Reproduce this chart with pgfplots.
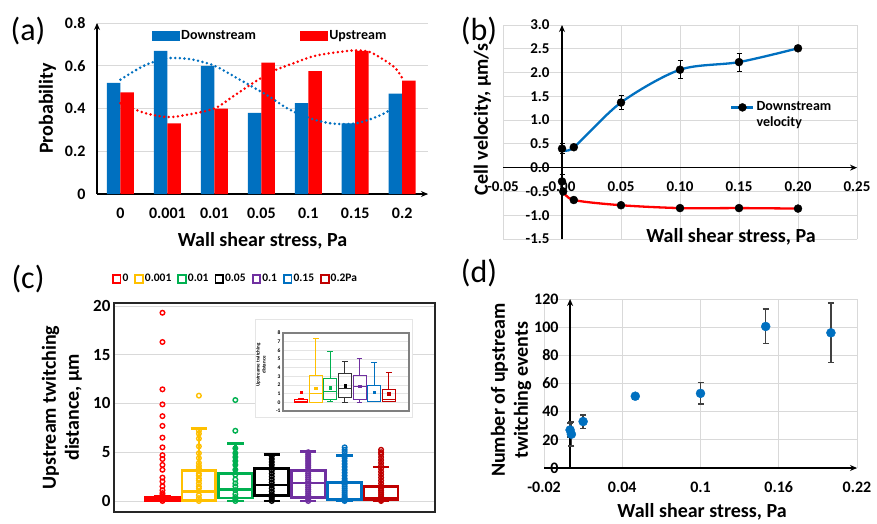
\documentclass[border=0pt]{standalone}
\usepackage{fontspec}
\setmainfont{Carlito}
\usepackage{pgfplots}
\pgfplotsset{compat=1.18}
\usepgfplotslibrary{statistics}
\usetikzlibrary{arrows.meta}
\definecolor{xblue}{RGB}{0,112,192}
\definecolor{xred}{RGB}{255,0,0}
\definecolor{xyellow}{RGB}{255,192,0}
\definecolor{xgreen}{RGB}{0,176,80}
\definecolor{xpurple}{RGB}{112,48,160}
\definecolor{xdred}{RGB}{192,0,0}
\definecolor{xgrid}{RGB}{217,217,217}
\definecolor{errgray}{RGB}{64,64,64}
\newcommand{\fs}[1]{\fontsize{#1}{#1}\selectfont}
\pgfplotsset{/pgf/number format/assume math mode=true}
\begin{document}
\begin{tikzpicture}[x=1pt,y=1pt]
\fill[white] (0,0) rectangle (877,523);
\path[use as bounding box] (0,0) rectangle (877,523);
% ---------------- (a)
\begin{axis}[
  at={(97pt,329pt)}, anchor=south west,
  scale only axis, width=331pt, height=171pt,
  xmin=-0.5, xmax=6.55, ymin=0, ymax=0.8,
  axis x line=bottom, axis y line=left,
  axis line style={line width=1.6pt, -{Stealth[length=7pt,width=6pt]}},
  ytick={0,0.2,0.4,0.6,0.8}, yticklabels={0,0.2,0.4,0.6,0.8},
  xtick={0,1,2,3,4,5,6}, xticklabels={0,0.001,0.01,0.05,0.1,0.15,0.2},
  major tick length=0pt,
  ymajorgrids, grid style={xgrid, line width=0.8pt},
  tick label style={font=\bfseries\fs{16}},
  xticklabel style={yshift=-10pt},
  yticklabel style={xshift=-8pt},
  xlabel={Wall shear stress, Pa},
  xlabel style={font=\bfseries\fs{20}, at={(axis description cs:0.5,-0.275)}, anchor=center},
  ylabel={Probability},
  ylabel style={font=\bfseries\fs{20}, at={(axis description cs:-0.15,0.5)}, anchor=center},
  legend columns=2,
  legend style={at={(0.523,0.924)}, anchor=center, draw=none, fill=none,
    font=\bfseries\fs{14}, /tikz/every even column/.append style={column sep=42pt}},
]
\addplot[ybar, bar width=13.5pt, bar shift=-6.75pt, fill=xblue, draw=none, forget plot]
  coordinates {(0,0.52) (1,0.67) (2,0.60) (3,0.38) (4,0.425) (5,0.33) (6,0.47)};
\addplot[ybar, bar width=13.5pt, bar shift=6.75pt, fill=xred, draw=none, forget plot]
  coordinates {(0,0.475) (1,0.33) (2,0.40) (3,0.615) (4,0.575) (5,0.67) (6,0.53)};
\addplot[xblue, line width=2.8pt, dash pattern=on 0pt off 4.6pt, line cap=round, smooth, forget plot]
  coordinates {(0,0.535) (0.5,0.60) (1,0.635) (1.5,0.63) (2,0.60) (2.5,0.54) (3.1,0.465) (3.6,0.395) (4.1,0.35) (4.5,0.33) (5,0.33) (5.5,0.365) (5.85,0.41) (6.02,0.46)};
\addplot[xred, line width=2.8pt, dash pattern=on 0pt off 4.6pt, line cap=round, smooth, forget plot]
  coordinates {(0,0.425) (0.5,0.38) (1,0.36) (1.4,0.37) (2,0.40) (2.4,0.457) (2.83,0.52) (3.25,0.575) (3.7,0.613) (4.1,0.644) (4.5,0.66) (5,0.672) (5.3,0.665) (5.55,0.636) (5.85,0.59) (6.02,0.535)};
\addlegendimage{legend image code/.code={\fill[xblue] (0pt,-4.5pt) rectangle (27pt,4.5pt);}}
\addlegendentry{Downstream}
\addlegendimage{legend image code/.code={\fill[xred] (0pt,-4.5pt) rectangle (27pt,4.5pt);}}
\addlegendentry{Upstream}
\end{axis}
% ---------------- (b)
\begin{axis}[
  at={(503pt,284pt)}, anchor=south west,
  scale only axis, width=354pt, height=214pt,
  xmin=-0.05, xmax=0.25, ymin=-1.5, ymax=3.0,
  axis lines=middle,
  axis line style={line width=1.6pt, -{Stealth[length=7pt,width=6pt]}},
  xtick={-0.05,0,0.05,0.1,0.15,0.2,0.25},
  xticklabels={-0.05,0.00,0.05,0.10,0.15,0.20,0.25},
  ytick={-1.5,-1,-0.5,0,0.5,1,1.5,2,2.5,3},
  yticklabels={-1.5,-1.0,-0.5,0.0,0.5,1.0,1.5,2.0,2.5,3.0},
  hide obscured x ticks=false, hide obscured y ticks=false,
  grid=major, grid style={xgrid, line width=0.8pt},
  major tick length=0pt,
  tick label style={font=\bfseries\fs{15}},
  xticklabel style={yshift=-10pt},
  yticklabel style={xshift=-9pt},
  xlabel={Wall shear stress, Pa},
  xlabel style={font=\bfseries\fs{20}, at={(axis description cs:0.644,0.008)}, anchor=center},
  ylabel={Cell velocity, µm/s},
  ylabel style={font=\bfseries\fs{20}, at={(axis description cs:-0.058,0.56)}, anchor=center, rotate=90},
  legend style={at={(0.633,0.664)}, anchor=north west, draw=none, fill=none,
    font=\bfseries\fontsize{14}{16}\selectfont, nodes={align=left}},
]
\addplot[xblue, line width=2.3pt, smooth, forget plot]
  coordinates {(0,0.38) (0.01,0.43) (0.05,1.37) (0.1,2.06) (0.15,2.22) (0.2,2.51)};
\addplot[xred, line width=2.3pt, smooth, forget plot]
  coordinates {(0.001,-0.5) (0.01,-0.68) (0.05,-0.79) (0.1,-0.85) (0.15,-0.85) (0.2,-0.86)};
\addplot[only marks, mark=*, mark size=4pt, black, forget plot,
  error bars/.cd, y dir=both, y explicit,
  error bar style={black, line width=0.8pt},
  error mark options={rotate=90, mark size=2.5pt, black, line width=0.8pt}]
  coordinates {(0,0.40) +- (0,0.10) (0.01,0.43) +- (0,0.04) (0.05,1.37) +- (0,0.14)
               (0.1,2.06) +- (0,0.19) (0.15,2.22) +- (0,0.19) (0.2,2.51) +- (0,0.03)};
\addplot[only marks, mark=*, mark size=4pt, black, forget plot,
  error bars/.cd, y dir=both, y explicit,
  error bar style={black, line width=0.8pt},
  error mark options={rotate=90, mark size=2.5pt, black, line width=0.8pt}]
  coordinates {(0,-0.29) +- (0,0.14) (0.001,-0.5) +- (0,0.05) (0.01,-0.68) +- (0,0.04)
               (0.05,-0.79) +- (0,0.03) (0.1,-0.85) +- (0,0.02) (0.15,-0.85) +- (0,0.02) (0.2,-0.86) +- (0,0.02)};
\addlegendimage{legend image code/.code={\draw[xblue, line width=2.3pt] (0pt,7pt) -- (22pt,7pt); \fill[black] (11pt,7pt) circle (4pt);}}
\addlegendentry{Downstream\\velocity}
\end{axis}
% ---------------- (c)
\begin{axis}[
  at={(114pt,11pt)}, anchor=south west,
  scale only axis, width=321pt, height=209pt,
  xmin=-0.33, xmax=8.48, ymin=-1.13, ymax=20.3,
  xtick=\empty, ytick={0,5,10,15,20},
  ymajorgrids, grid style={xgrid, line width=0.8pt},
  axis line style={line width=2pt, black!85},
  major tick length=0pt,
  tick label style={font=\bfseries\fs{17}},
  boxplot/draw direction=y,
  ylabel={Upstream twitching\\distance, µm},
  ylabel style={align=center, font=\bfseries\fontsize{20}{23}\selectfont, at={(axis description cs:-0.162,0.5)}, anchor=center},
  legend columns=7,
  legend style={at={(0.38,1.115)}, anchor=center, draw=none, fill=none,
    font=\bfseries\fs{11.5}, /tikz/every even column/.append style={column sep=5pt}},
]
\addplot[xred, line width=2.7pt, forget plot, boxplot prepared={draw position=1, lower whisker=0, lower quartile=0, median=0.1, upper quartile=0.35, upper whisker=0.5, box extend=0.93, whisker extend=0.45}] coordinates {};
\addplot[xyellow, line width=2.7pt, forget plot, boxplot prepared={draw position=2, lower whisker=0, lower quartile=0.05, median=1.0, upper quartile=3.15, upper whisker=7.4, box extend=0.93, whisker extend=0.45}] coordinates {};
\addplot[xgreen, line width=2.7pt, forget plot, boxplot prepared={draw position=3, lower whisker=0, lower quartile=0.3, median=1.2, upper quartile=2.85, upper whisker=5.9, box extend=0.93, whisker extend=0.45}] coordinates {};
\addplot[black, line width=2.7pt, forget plot, boxplot prepared={draw position=4, lower whisker=0, lower quartile=0.55, median=1.65, upper quartile=3.3, upper whisker=4.75, box extend=0.93, whisker extend=0.45}] coordinates {};
\addplot[xpurple, line width=2.7pt, forget plot, boxplot prepared={draw position=5, lower whisker=0, lower quartile=0.35, median=1.85, upper quartile=3.1, upper whisker=5.1, box extend=0.93, whisker extend=0.45}] coordinates {};
\addplot[xblue, line width=2.7pt, forget plot, boxplot prepared={draw position=6, lower whisker=0, lower quartile=0.1, median=0.18, upper quartile=1.9, upper whisker=4.65, box extend=0.93, whisker extend=0.45}] coordinates {};
\addplot[xdred, line width=2.7pt, forget plot, boxplot prepared={draw position=7, lower whisker=0, lower quartile=0.15, median=0.3, upper quartile=1.5, upper whisker=3.5, box extend=0.93, whisker extend=0.45}] coordinates {};
% points
\addplot[only marks, mark=o, mark size=2.3pt, xred, line width=1.4pt, forget plot] coordinates {
(1,0) (1,0.15) (1,0.3) (1,0.45) (1,0.6) (1,0.8) (1,1.1) (1,1.5) (1,2.0) (1,2.4) (1,3.2) (1,3.7) (1,4.3) (1,4.7) (1,5.5) (1,6.5) (1,7.7) (1,8.7) (1,9.9) (1,11.45) (1,16.3) (1,19.3)};
\addplot[only marks, mark=o, mark size=2.3pt, xyellow, line width=1.4pt, forget plot] coordinates {
(2,0) (2,0.3) (2,0.6) (2,1.0) (2,1.3) (2,1.5) (2,1.8) (2,2.1) (2,2.3) (2,2.6) (2,2.8) (2,3.1) (2,3.35) (2,3.6) (2,3.9) (2,4.4) (2,4.9) (2,5.6) (2,6.4) (2,6.9) (2,7.2) (2,10.8)};
\addplot[only marks, mark=o, mark size=2.3pt, xgreen, line width=1.4pt, forget plot] coordinates {
(3,0) (3,0.2) (3,0.4) (3,0.7) (3,1.1) (3,1.5) (3,1.8) (3,2.2) (3,2.7) (3,3.2) (3,3.7) (3,4.1) (3,4.5) (3,4.9) (3,5.4) (3,7.2) (3,10.35)};
\addplot[only marks, mark=o, mark size=2.3pt, black, line width=1.4pt, forget plot] coordinates {
(4,0) (4,0.2) (4,0.4) (4,0.7) (4,1.0) (4,1.3) (4,1.6) (4,1.9) (4,2.2) (4,2.5) (4,2.8) (4,3.1) (4,3.4) (4,3.7) (4,4.0) (4,4.3) (4,4.6)};
\addplot[only marks, mark=o, mark size=2.3pt, xpurple, line width=1.4pt, forget plot] coordinates {
(5,0) (5,0.2) (5,0.4) (5,0.6) (5,0.8) (5,1.0) (5,1.2) (5,1.4) (5,1.6) (5,1.8) (5,2.0) (5,2.2) (5,2.4) (5,2.6) (5,2.8) (5,3.0) (5,3.2) (5,3.4) (5,3.6) (5,3.8) (5,4.0) (5,4.2) (5,4.4) (5,4.6) (5,4.8) (5,5.0)};
\addplot[only marks, mark=o, mark size=2.3pt, xblue, line width=1.4pt, forget plot] coordinates {
(6,0) (6,0.1) (6,0.2) (6,0.35) (6,0.5) (6,0.7) (6,0.9) (6,1.1) (6,1.3) (6,1.5) (6,1.7) (6,1.9) (6,2.1) (6,2.3) (6,2.6) (6,2.9) (6,3.2) (6,3.5) (6,3.8) (6,4.1) (6,4.4) (6,4.7) (6,5.0) (6,5.25) (6,5.5)};
\addplot[only marks, mark=o, mark size=2.3pt, xdred, line width=1.4pt, forget plot] coordinates {
(7,0) (7,0.1) (7,0.2) (7,0.3) (7,0.5) (7,0.7) (7,0.9) (7,1.1) (7,1.3) (7,1.5) (7,1.8) (7,2.1) (7,2.4) (7,2.7) (7,3.0) (7,3.3) (7,3.6) (7,3.9) (7,4.2) (7,4.5) (7,4.8) (7,5.0) (7,5.25)};
\addlegendimage{only marks, mark=square, mark size=3.8pt, xred, line width=1.8pt}
\addlegendentry{0}
\addlegendimage{only marks, mark=square, mark size=3.8pt, xyellow, line width=1.8pt}
\addlegendentry{0.001}
\addlegendimage{only marks, mark=square, mark size=3.8pt, xgreen, line width=1.8pt}
\addlegendentry{0.01}
\addlegendimage{only marks, mark=square, mark size=3.8pt, black, line width=1.8pt}
\addlegendentry{0.05}
\addlegendimage{only marks, mark=square, mark size=3.8pt, xpurple, line width=1.8pt}
\addlegendentry{0.1}
\addlegendimage{only marks, mark=square, mark size=3.8pt, xblue, line width=1.8pt}
\addlegendentry{0.15}
\addlegendimage{only marks, mark=square, mark size=3.8pt, xdred, line width=1.8pt}
\addlegendentry{0.2Pa}
\end{axis}
% inset background
\filldraw[fill=white, draw=black!10, line width=0.8pt] (255,106) rectangle (412,204);
\begin{axis}[
  at={(283pt,112pt)}, anchor=south west,
  scale only axis, width=126pt, height=78pt,
  xmin=-0.25, xmax=8.39, ymin=-1, ymax=8,
  xtick=\empty, ytick={-1,0,1,2,3,4,5,6,7,8},
  ymajorgrids, grid style={xgrid!70, line width=0.5pt},
  axis line style={line width=1.4pt, black!50},
  major tick length=0pt,
  tick label style={font=\bfseries\fs{5.5}},
  yticklabel style={xshift=1pt},
  boxplot/draw direction=y,
  ylabel={Upstreame twitching\\distance},
  ylabel style={align=center, font=\bfseries\fontsize{5}{6}\selectfont, at={(axis description cs:-0.175,0.59)}, anchor=center},
]
\addplot[xred, line width=1pt, boxplot prepared={draw position=1, lower whisker=0, lower quartile=0, median=0.1, upper quartile=0.3, upper whisker=0.5, box extend=0.9, whisker extend=0.4}] coordinates {};
\addplot[xyellow, line width=1pt, boxplot prepared={draw position=2, lower whisker=0, lower quartile=0, median=1.0, upper quartile=3.1, upper whisker=7.4, box extend=0.9, whisker extend=0.4}] coordinates {};
\addplot[xgreen, line width=1pt, boxplot prepared={draw position=3, lower whisker=0.1, lower quartile=0.3, median=1.2, upper quartile=2.8, upper whisker=5.9, box extend=0.9, whisker extend=0.4}] coordinates {};
\addplot[black!80, line width=1pt, boxplot prepared={draw position=4, lower whisker=0, lower quartile=0.55, median=1.65, upper quartile=3.3, upper whisker=4.75, box extend=0.9, whisker extend=0.4}] coordinates {};
\addplot[xpurple, line width=1pt, boxplot prepared={draw position=5, lower whisker=0, lower quartile=0.35, median=1.8, upper quartile=3.1, upper whisker=5.1, box extend=0.9, whisker extend=0.4}] coordinates {};
\addplot[xblue, line width=1pt, boxplot prepared={draw position=6, lower whisker=0.1, lower quartile=0.1, median=0.15, upper quartile=1.9, upper whisker=4.65, box extend=0.9, whisker extend=0.4}] coordinates {};
\addplot[xdred, line width=1pt, boxplot prepared={draw position=7, lower whisker=0.1, lower quartile=0.15, median=0.3, upper quartile=1.5, upper whisker=3.5, box extend=0.9, whisker extend=0.4}] coordinates {};
\addplot[only marks, mark=square*, mark size=1.2pt, xred] coordinates {(1,1.2)};
\addplot[only marks, mark=square*, mark size=1.2pt, xyellow] coordinates {(2,1.65)};
\addplot[only marks, mark=square*, mark size=1.2pt, xgreen] coordinates {(3,1.7)};
\addplot[only marks, mark=square*, mark size=1.2pt, black] coordinates {(4,1.9)};
\addplot[only marks, mark=square*, mark size=1.2pt, xpurple] coordinates {(5,1.85)};
\addplot[only marks, mark=square*, mark size=1.2pt, xblue] coordinates {(6,1.2)};
\addplot[only marks, mark=square*, mark size=1.2pt, xdred] coordinates {(7,1.0)};
\end{axis}
% ---------------- (d)
\begin{axis}[
  at={(544pt,55pt)}, anchor=south west,
  scale only axis, width=313pt, height=169pt,
  xmin=-0.02, xmax=0.22, ymin=0, ymax=120,
  axis lines=middle,
  axis line style={line width=1.6pt, -{Stealth[length=7pt,width=6pt]}},
  xtick={-0.02,0.04,0.1,0.16,0.22}, xticklabels={-0.02,0.04,0.1,0.16,0.22},
  ytick={0,20,40,60,80,100,120}, yticklabels={0,20,40,60,80,100,120},
  hide obscured x ticks=false, hide obscured y ticks=false,
  grid=major, grid style={xgrid, line width=0.8pt},
  major tick length=0pt,
  tick label style={font=\bfseries\fs{16}},
  xticklabel style={yshift=-10pt},
  yticklabel style={xshift=-8pt},
  xlabel={Wall shear stress, Pa},
  xlabel style={font=\bfseries\fs{20}, at={(axis description cs:0.505,-0.262)}, anchor=center},
  ylabel={Number of upstream\\twitching events},
  ylabel style={align=center, font=\bfseries\fontsize{20}{23}\selectfont, at={(axis description cs:-0.105,0.46)}, anchor=center, rotate=90},
]
\addplot[only marks, mark=*, mark size=4.5pt, xblue,
  error bars/.cd, y dir=both, y explicit,
  error bar style={errgray, line width=1.5pt},
  error mark options={rotate=90, mark size=3pt, errgray, line width=1.5pt}]
  coordinates {(0,27) +- (0,5) (0.001,24) +- (0,8.5) (0.01,33) += (0,4.6) -= (0,5)
    (0.05,51) +- (0,2) (0.1,53) += (0,7.8) -= (0,7.6) (0.15,100.5) += (0,12.3) -= (0,12.1)
    (0.2,96) +- (0,21)};
\end{axis}
% panel letters
\node[font=\fs{32}] at (28,492) {(a)};
\node[font=\fs{32}] at (479,492) {(b)};
\node[font=\fs{32}] at (28,244) {(c)};
\node[font=\fs{32}] at (479,250) {(d)};
\end{tikzpicture}
\end{document}
